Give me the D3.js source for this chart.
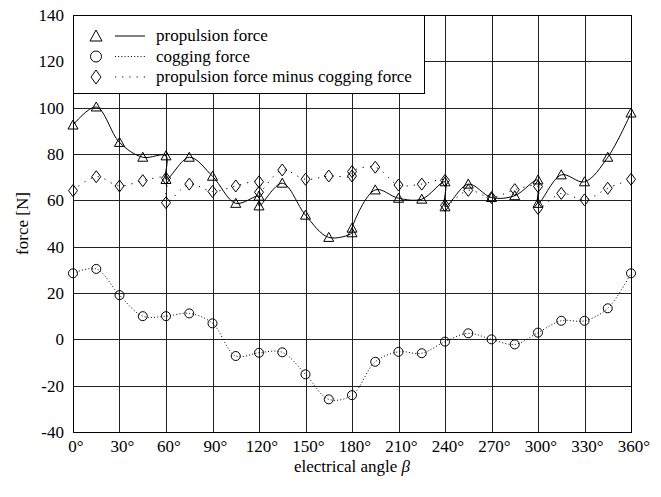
<!DOCTYPE html>
<html>
<head>
<meta charset="utf-8">
<script src="https://cdn.jsdelivr.net/npm/d3@7"></script>
<style>
    body { margin: 0; background: white; }
    text { font-family: "Liberation Serif", "DejaVu Serif", serif; fill: black; }
</style>
</head>
<body>
<svg id="chart" width="661" height="497"></svg>
<script>
// angles where the force was measured (some angles have two readings)
var force_angles = [0, 15, 30, 45, 60, 60, 75, 90, 105, 120, 120, 135, 150, 165, 180, 180,
    195, 210, 225, 240, 240, 255, 270, 285, 300, 300, 315, 330, 345, 360];
var propulsion = [92.5, 100.3, 85, 78.6, 79.2, 69, 78.6, 70.4, 58.7, 61.8, 57.6, 67.4, 53.6, 44, 46, 48,
    64.5, 60.9, 60.5, 68, 57.2, 67, 61.2, 62, 68.8, 58.7, 71, 68, 78.6, 97.7];
var minus_cogging = [64.2, 70.2, 66.2, 68.5, 69.5, 59, 67, 63.8, 66.2, 68, 63.5, 73.1, 69.1, 70.5, 70.5, 72.4,
    74.3, 66.6, 67, 68.6, 57.8, 64.3, 61.2, 64.6, 66, 56.5, 63, 60.2, 65.2, 69.1];

var cogging_angles = [0, 15, 30, 45, 60, 75, 90, 105, 120, 135, 150, 165, 180,
    195, 210, 225, 240, 255, 270, 285, 300, 315, 330, 345, 360];
var cogging = [28.5, 30.4, 19.1, 10, 10, 11.2, 6.9, -7.2, -5.8, -5.6, -15.1, -25.9, -24.1,
    -9.7, -5.4, -6, -1, 2.6, 0, -2.2, 2.9, 8, 8, 13.4, 28.5];

var x_ticks = [0, 30, 60, 90, 120, 150, 180, 210, 240, 270, 300, 330, 360];
var y_ticks = [-40, -20, 0, 20, 40, 60, 80, 100, 120, 140];

var legend_labels = ["propulsion force", "cogging force", "propulsion force minus cogging force"];

const LEFT = 73, RIGHT = 631, TOP = 15, BOTTOM = 432;

var svg = d3.select("svg#chart");

var x = d3.scaleLinear().domain([0, 360]).range([LEFT, RIGHT]);
var y = d3.scaleLinear().domain([-40, 140]).range([BOTTOM, TOP]);

// grid
var grid = svg.append("g").attr("stroke", "#222").attr("stroke-width", 1);
grid.selectAll("line.v")
    .data(x_ticks)
    .join("line")
    .attr("class", "v")
    .attr("x1", d => Math.round(x(d)) + 0.5)
    .attr("x2", d => Math.round(x(d)) + 0.5)
    .attr("y1", TOP)
    .attr("y2", BOTTOM);
grid.selectAll("line.h")
    .data(y_ticks)
    .join("line")
    .attr("class", "h")
    .attr("x1", LEFT)
    .attr("x2", RIGHT)
    .attr("y1", d => Math.round(y(d)) + 0.5)
    .attr("y2", d => Math.round(y(d)) + 0.5);

svg.append("rect")
    .attr("x", LEFT + 0.5)
    .attr("y", TOP + 0.5)
    .attr("width", RIGHT - LEFT)
    .attr("height", BOTTOM - TOP)
    .attr("fill", "none")
    .attr("stroke", "black")
    .attr("stroke-width", 1);

// tick labels
svg.append("g").selectAll("text")
    .data(x_ticks)
    .join("text")
    .attr("x", d => x(d) + 3)
    .attr("y", 452)
    .attr("text-anchor", "middle")
    .style("font-size", "17px")
    .text(d => d + "°");

svg.append("g").selectAll("text")
    .data(y_ticks)
    .join("text")
    .attr("x", 64)
    .attr("y", d => y(d))
    .attr("dy", "0.35em")
    .attr("text-anchor", "end")
    .style("font-size", "17px")
    .text(d => d);

svg.append("text")
    .attr("x", (LEFT + RIGHT) / 2)
    .attr("y", 472)
    .attr("text-anchor", "middle")
    .style("font-size", "17px")
    .text("electrical angle ")
    .append("tspan")
    .style("font-style", "italic")
    .text("β");

svg.append("text")
    .attr("transform", "translate(22," + (TOP + BOTTOM) / 2 + ") rotate(-90)")
    .attr("text-anchor", "middle")
    .attr("dy", "0.35em")
    .style("font-size", "17px")
    .text("force [N]");

// markers
function triangle_path(cx, cy) {
    return "M" + (cx - 5) + "," + (cy + 4) + "L" + cx + "," + (cy - 5) + "L" + (cx + 5) + "," + (cy + 4) + "Z";
}
function diamond_path(cx, cy) {
    return "M" + cx + "," + (cy - 6) + "L" + (cx + 4.5) + "," + cy + "L" + cx + "," + (cy + 6) + "L" + (cx - 4.5) + "," + cy + "Z";
}

var curve = d3.curveCatmullRom.alpha(0.5);

var series = [
    { "angles": force_angles, "values": propulsion, "dash": null, "marker": "triangle" },
    { "angles": cogging_angles, "values": cogging, "dash": "1,2.2", "marker": "circle" },
    { "angles": force_angles, "values": minus_cogging, "dash": "1.2,6", "marker": "diamond" }
];

series.forEach(function(s) {
    var points = s.angles.map((a, i) => [x(a), y(s.values[i])]);
    var line = d3.line().curve(curve);

    svg.append("path")
        .attr("d", line(points))
        .attr("fill", "none")
        .attr("stroke", "black")
        .attr("stroke-width", 1)
        .attr("stroke-dasharray", s.dash);

    var g = svg.append("g").attr("fill", "none").attr("stroke", "black").attr("stroke-width", 1);
    if (s.marker == "circle") {
        g.selectAll("circle")
            .data(points)
            .join("circle")
            .attr("cx", d => d[0])
            .attr("cy", d => d[1])
            .attr("r", 4.5);
    } else {
        g.selectAll("path")
            .data(points)
            .join("path")
            .attr("d", d => s.marker == "triangle" ? triangle_path(d[0], d[1]) : diamond_path(d[0], d[1]));
    }
});

// legend
var legend = svg.append("g");
legend.append("rect")
    .attr("x", LEFT + 0.5)
    .attr("y", TOP + 0.5)
    .attr("width", 351)
    .attr("height", 78)
    .attr("fill", "white")
    .attr("stroke", "black")
    .attr("stroke-width", 1);

legend_labels.forEach(function(label, i) {
    var cy = 36 + i * 20.5;
    var s = series[i];
    var mark = legend.append("g").attr("fill", "none").attr("stroke", "black").attr("stroke-width", 1);
    if (s.marker == "circle") {
        mark.append("circle").attr("cx", 96).attr("cy", cy).attr("r", 5.5);
    } else if (s.marker == "triangle") {
        mark.append("path").attr("d", "M90," + (cy + 5) + "L96," + (cy - 6) + "L102," + (cy + 5) + "Z");
    } else {
        mark.append("path").attr("d", "M96," + (cy - 7) + "L101," + cy + "L96," + (cy + 7) + "L91," + cy + "Z");
    }
    legend.append("line")
        .attr("x1", 115)
        .attr("x2", 145)
        .attr("y1", cy)
        .attr("y2", cy)
        .attr("stroke", "black")
        .attr("stroke-width", 1)
        .attr("stroke-dasharray", s.dash);
    legend.append("text")
        .attr("x", 156)
        .attr("y", cy)
        .attr("dy", "0.3em")
        .style("font-size", "17px")
        .text(label);
});
</script>
</body>
</html>
